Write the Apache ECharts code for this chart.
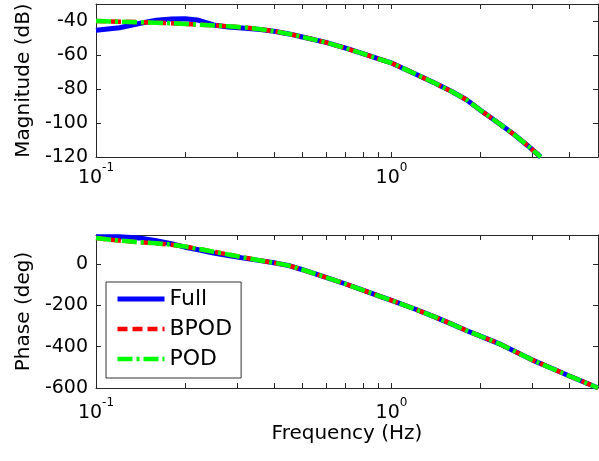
<!DOCTYPE html>
<html><head><meta charset="utf-8">
<script src="https://cdn.jsdelivr.net/npm/echarts@6/dist/echarts.min.js"></script>
<style>html,body{margin:0;padding:0;background:#fff}#c{width:599px;height:461px}</style>
</head><body><div id="c"></div>
<script>
// ---- data ----
const magFreq  = [0.10, 0.12, 0.14, 0.16, 0.18, 0.20, 0.22, 0.25, 0.28, 0.32, 0.36, 0.40, 0.45, 0.50, 0.60, 0.70, 0.80, 0.90, 1.00, 1.20, 1.40, 1.60, 1.80, 2.00, 2.30, 2.60, 2.90, 3.20];
const magFull  = [-45.5, -44.0, -41.5, -39.6, -38.8, -38.7, -39.4, -42.3, -43.5, -44.2, -45.0, -46.0, -47.6, -49.4, -52.6, -56.0, -59.2, -62.2, -64.7, -71.0, -76.5, -81.5, -86.5, -92.5, -100.0, -106.8, -113.5, -120.0];
const magBPOD  = [-40.0, -40.4, -40.7, -41.0, -41.3, -41.7, -42.1, -42.6, -43.1, -43.8, -44.8, -46.0, -47.6, -49.4, -52.6, -56.0, -59.2, -62.2, -64.7, -71.0, -76.5, -81.5, -86.5, -92.5, -100.0, -106.8, -113.5, -120.0];
const magPOD   = [-40.0, -40.4, -40.7, -41.0, -41.3, -41.7, -42.1, -42.6, -43.1, -43.8, -44.8, -46.0, -47.6, -49.4, -52.6, -56.0, -59.2, -62.2, -64.7, -71.0, -76.5, -81.5, -86.5, -92.5, -100.0, -106.8, -113.5, -120.0];

const phaseFreq = [0.10, 0.12, 0.14, 0.16, 0.18, 0.20, 0.22, 0.25, 0.28, 0.32, 0.36, 0.40, 0.45, 0.50, 0.60, 0.70, 0.80, 0.90, 1.00, 1.20, 1.40, 1.60, 1.80, 2.00, 2.30, 2.60, 3.00, 3.50, 4.00, 4.50, 5.00];
const phaseFull = [132, 131, 126, 112, 98, 81, 70, 53, 41, 27, 16, 6, -8, -28, -65, -97, -127, -153, -176, -218, -256, -291, -323, -349, -384, -421, -465, -506, -542, -572, -600];
const phaseBPOD = [125, 113, 105, 100, 93, 84, 74, 59, 46, 30, 17, 6, -8, -28, -65, -97, -127, -153, -176, -218, -256, -291, -323, -349, -384, -421, -465, -506, -542, -572, -600];
const phasePOD  = [125, 113, 105, 100, 93, 84, 74, 59, 46, 30, 17, 6, -8, -28, -65, -97, -127, -153, -176, -218, -256, -291, -323, -349, -384, -421, -465, -506, -542, -572, -600];

const seriesNames = ['Full', 'BPOD', 'POD'];
const xTickFreqs  = [0.1, 0.2, 0.3, 0.4, 0.5, 0.6, 0.7, 0.8, 0.9, 1, 2, 3, 4, 5];
const xLabelFreqs = [0.1, 1];
const magTicks = { min: -120, max: -30, interval: 20 };
const phaseTicks = { min: -600, max: 140, interval: 200 };

// ---- chart ----
const FONT = 'DejaVu Sans';
const AX = '#262626';
const xMin = 0.1, xMax = 5;
const lg = Math.log10;

function xAxesFor(g, margin, name) {
  const common = { type: 'value', gridIndex: g, min: lg(xMin), max: lg(xMax), splitLine: { show: false } };
  return [
    Object.assign({}, common, {
      position: 'bottom',
      axisLine: { show: true, onZero: false, lineStyle: { color: AX, width: 1 } },
      axisTick: { show: true, inside: true, length: 5, customValues: xTickFreqs.map(lg), lineStyle: { color: AX } },
      axisLabel: {
        show: true, customValues: xLabelFreqs.map(lg), margin: margin,
        formatter: v => '{b|10}{s|' + Math.round(v) + '}',
        rich: {
          b: { fontFamily: FONT, fontSize: 19, color: '#000', lineHeight: 26, verticalAlign: 'bottom' },
          s: { fontFamily: FONT, fontSize: 12, color: '#000', lineHeight: 12, verticalAlign: 'top' }
        }
      },
      name: name || '', nameLocation: 'middle', nameGap: 36,
      nameTextStyle: { fontFamily: FONT, fontSize: 20, color: '#000' }
    }),
    Object.assign({}, common, {
      position: 'top',
      axisLine: { show: true, onZero: false, lineStyle: { color: AX, width: 1 } },
      axisTick: { show: true, inside: true, length: 5, customValues: xTickFreqs.map(lg), lineStyle: { color: AX } },
      axisLabel: { show: false }
    }),
    { type: 'log', logBase: 10, gridIndex: g, min: xMin, max: xMax, show: false,
      axisLine: { onZero: false }, splitLine: { show: false } }
  ];
}

function yAxesFor(g, t, name) {
  const common = { type: 'value', gridIndex: g, min: t.min, max: t.max, interval: t.interval, splitLine: { show: false } };
  return [
    Object.assign({}, common, {
      position: 'left',
      axisLine: { show: true, onZero: false, lineStyle: { color: AX, width: 1 } },
      axisTick: { show: true, inside: true, length: 5, lineStyle: { color: AX } },
      axisLabel: { show: true, margin: 8, fontFamily: FONT, fontSize: 19, color: '#000',
        formatter: v => ((v - t.min) % t.interval === 0 ? String(v) : '') },
      name: name, nameLocation: 'middle', nameGap: 60,
      nameTextStyle: { fontFamily: FONT, fontSize: 20, color: '#000' }
    }),
    Object.assign({}, common, {
      position: 'right',
      axisLine: { show: true, onZero: false, lineStyle: { color: AX, width: 1 } },
      axisTick: { show: true, inside: true, length: 5, lineStyle: { color: AX } },
      axisLabel: { show: false }
    })
  ];
}

const styles = [
  { color: '#0000ff', width: 5, type: 'solid' },
  { color: '#ff0000', width: 4.5, type: [10, 5] },
  { color: '#00ff00', width: 4.5, type: [15, 4, 3, 4] }
];
const zip = (xs, ys) => xs.map((x, i) => [x, ys[i]]);
const magSets = [magFull, magBPOD, magPOD];
const phaseSets = [phaseFull, phaseBPOD, phasePOD];

const series = [];
seriesNames.forEach((n, i) => {
  series.push({ name: n, type: 'line', xAxisIndex: 2, yAxisIndex: 0, data: zip(magFreq, magSets[i]),
    symbol: 'none', showSymbol: false, clip: true, z: 2 + i,
    lineStyle: { color: styles[i].color, width: styles[i].width, type: styles[i].type },
    itemStyle: { color: styles[i].color } });
  series.push({ name: n, type: 'line', xAxisIndex: 5, yAxisIndex: 2, data: zip(phaseFreq, phaseSets[i]),
    symbol: 'none', showSymbol: false, clip: true, z: 2 + i,
    lineStyle: { color: styles[i].color, width: styles[i].width, type: styles[i].type },
    itemStyle: { color: styles[i].color } });
});

const chart = echarts.init(document.getElementById('c'), null, { renderer: 'canvas' });
chart.setOption({
  animation: false,
  backgroundColor: '#fff',
  grid: [
    { left: 96, right: 1, top: 4, height: 153 },
    { left: 96, right: 1, top: 235, height: 153 }
  ],
  xAxis: [].concat(xAxesFor(0, 5, ''), xAxesFor(1, 9, 'Frequency (Hz)')),
  yAxis: [].concat(yAxesFor(0, magTicks, 'Magnitude (dB)'), yAxesFor(1, phaseTicks, 'Phase (deg)')),
  legend: {
    orient: 'vertical', left: 106, top: 282, padding: [5, 9, 7, 9],
    itemWidth: 47, itemHeight: 14, itemGap: 6,
    borderColor: '#333', borderWidth: 1, backgroundColor: '#fff',
    textStyle: { fontFamily: FONT, fontSize: 22, color: '#000', lineHeight: 24 },
    data: seriesNames.map((n, i) => ({
      name: n,
      itemStyle: { opacity: 0 },
      lineStyle: { color: styles[i].color, width: styles[i].width, type: styles[i].type, opacity: 1 }
    }))
  },
  series: series
});
</script>
</body></html>
